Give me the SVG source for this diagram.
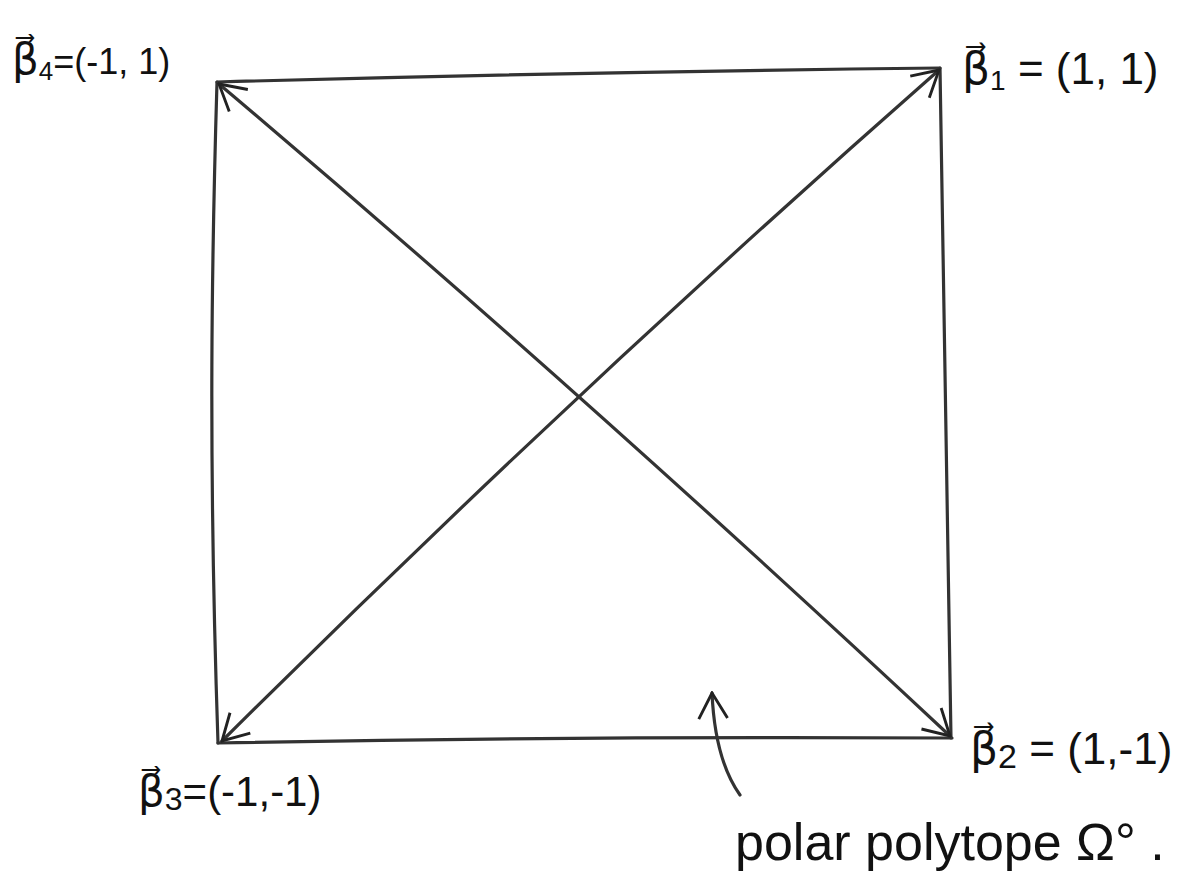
<svg xmlns="http://www.w3.org/2000/svg" width="1202" height="884" viewBox="0 0 1202 884">
<style>
.ln{fill:none;stroke:#333;stroke-width:3.2;stroke-linecap:round;stroke-linejoin:round}
.lbl{font-family:"Liberation Sans","DejaVu Sans",sans-serif;fill:#111}
</style>
<defs>
<marker id="ah2" viewBox="0 0 20 20" refX="19" refY="10" markerWidth="32" markerHeight="32" markerUnits="userSpaceOnUse" orient="auto-start-reverse">
<path d="M3,1 L19,10 L3,19" fill="none" stroke="#222" stroke-width="1.8"/>
</marker>
</defs>
<rect width="1202" height="884" fill="#fff"/>
<g id="connectors">
<path id="edge-top" class="ln" d="M217,82 Q580,72 940,68"/>
<path id="edge-right" class="ln" d="M940,68 Q944,400 951,738"/>
<path id="edge-bottom" class="ln" d="M218,743 Q580,736 952,738"/>
<path id="edge-left" class="ln" d="M217,82 C212,250 208,450 218,743"/>
<path id="diag1" class="ln" d="M219,84 Q575,385 950,736" marker-start="url(#ah2)" marker-end="url(#ah2)"/>
<path id="diag2" class="ln" d="M939,70 Q575,390 222,741" marker-start="url(#ah2)" marker-end="url(#ah2)"/>
<path id="pointer" class="ln" d="M740,795 Q715,760 712,693" marker-end="url(#ah2)"/>
</g>
<g id="node-b4">
<text class="lbl" x="12" y="74" font-size="42">β⃗<tspan font-size="26" dy="6">4</tspan><tspan dy="-6" font-size="36">=(-1, 1)</tspan></text>
</g>
<g id="node-b1">
<text class="lbl" x="962" y="84" font-size="44">β⃗<tspan font-size="28" dy="6">1</tspan><tspan dy="-6"> = (1, 1)</tspan></text>
</g>
<g id="node-b3">
<text class="lbl" x="138" y="806" font-size="42">β⃗<tspan font-size="32" dy="4">3</tspan><tspan dy="-4">=(-1,-1)</tspan></text>
</g>
<g id="node-b2">
<text class="lbl" x="970" y="764" font-size="44">β⃗<tspan font-size="34" dy="4">2</tspan><tspan dy="-4"> = (1,-1)</tspan></text>
</g>
<g id="node-polar">
<text class="lbl" x="735" y="860" font-size="52">polar polytope Ω°  .</text>
</g>
</svg>
